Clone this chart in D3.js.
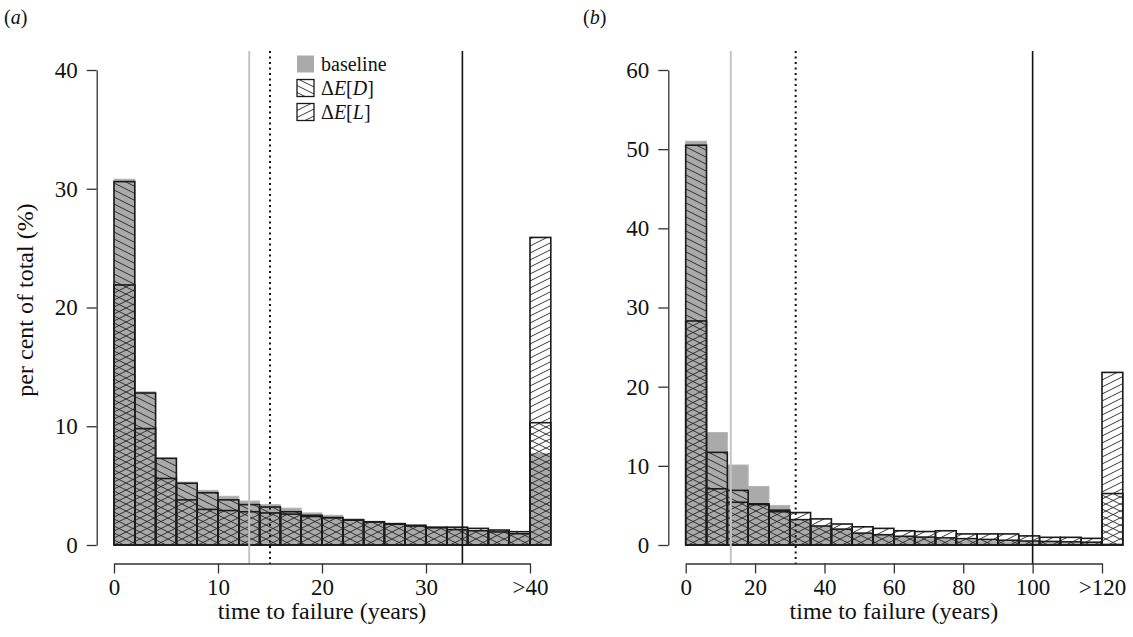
<!DOCTYPE html>
<html>
<head>
<meta charset="utf-8">
<script src="https://cdn.jsdelivr.net/npm/d3@7"></script>
<style>
  body { margin: 0; background: #fff; }
  svg { display: block; font-family: "Liberation Serif", "DejaVu Serif", serif; }
</style>
</head>
<body>
<div id="chartDiv"></div>
<script>
// bin starts (years); the last bin is the overflow bin (">40" / ">120")
const binStartA = [0, 2, 4, 6, 8, 10, 12, 14, 16, 18, 20, 22, 24, 26, 28, 30, 32, 34, 36, 38, 40];
const binStartB = [0, 6, 12, 18, 24, 30, 36, 42, 48, 54, 60, 66, 72, 78, 84, 90, 96, 102, 108, 114, 120];

// per cent of total, panel (a)
const baselineA = [30.8, 12.9, 7.3, 5.3, 4.6, 4.1, 3.7, 3.4, 3.1, 2.7, 2.5, 2.2, 2.0, 1.8, 1.7, 1.5, 1.35, 1.2, 1.1, 0.95, 7.7];
const deltaDA   = [30.6, 12.8, 7.3, 5.2, 4.4, 3.8, 3.4, 3.2, 2.8, 2.5, 2.3, 2.1, 1.95, 1.75, 1.6, 1.45, 1.3, 1.2, 1.1, 0.95, 10.3];
const deltaLA   = [21.9, 9.8, 5.6, 3.8, 3.0, 2.9, 2.8, 2.7, 2.6, 2.4, 2.3, 2.1, 1.95, 1.8, 1.65, 1.5, 1.5, 1.4, 1.26, 1.12, 25.9];

// per cent of total, panel (b)
const baselineB = [51.0, 14.2, 10.1, 7.4, 5.0, 3.0, 2.3, 2.0, 1.4, 1.3, 1.0, 0.9, 0.7, 0.6, 0.5, 0.4, 0.35, 0.3, 0.25, 0.2, 0.2];
const deltaDB   = [50.5, 11.7, 6.9, 5.2, 4.2, 3.2, 2.4, 2.0, 1.5, 1.3, 1.1, 1.0, 0.9, 0.8, 0.7, 0.6, 0.5, 0.45, 0.4, 0.35, 6.5];
const deltaLB   = [28.3, 7.1, 5.4, 5.1, 4.4, 4.1, 3.3, 2.65, 2.3, 2.1, 1.8, 1.7, 1.8, 1.4, 1.4, 1.4, 1.15, 0.97, 0.97, 0.84, 21.8];

// axes
const xTicksA = [0, 10, 20, 30, 40];
const xTickLabelsA = ["0", "10", "20", "30", ">40"];
const xTicksB = [0, 20, 40, 60, 80, 100, 120];
const xTickLabelsB = ["0", "20", "40", "60", "80", "100", ">120"];
const yTicksA = [0, 10, 20, 30, 40];
const yTicksB = [0, 10, 20, 30, 40, 50, 60];

// reference lines: grey, dotted, solid (years)
const vlinesA = [13, 15, 33.5];
const vlinesB = [13, 31.7, 100];

const width = 1133, height = 637;
const svg = d3.select("#chartDiv").append("svg")
    .attr("width", width)
    .attr("height", height)
    .attr("viewBox", [0, 0, width, height]);

svg.append("rect").attr("width", width).attr("height", height).attr("fill", "#fff");

// hatch patterns
const defs = svg.append("defs");
function hatch(id, dir) {
  const w = 14, h = 7;
  const p = defs.append("pattern")
      .attr("id", id)
      .attr("patternUnits", "userSpaceOnUse")
      .attr("width", w).attr("height", h);
  const d = dir > 0
    ? `M0,0L${w},${h}M0,${-h}L${w},0M0,${h}L${w},${2*h}`
    : `M0,${h}L${w},0M0,0L${w},${-h}M0,${2*h}L${w},${h}`;
  p.append("path").attr("d", d)
      .attr("stroke", "#222").attr("stroke-width", 0.9).attr("fill", "none");
}
hatch("hatchD", 1);
hatch("hatchL", -1);

const greyFill = "#aaaaaa";
const ink = "#111";

function panel(cfg) {
  const x = d3.scaleLinear().domain([0, cfg.xMax]).range(cfg.xRange);
  const y = d3.scaleLinear().domain([0, cfg.yMax]).range([545, 70]);
  const g = svg.append("g");

  const bars = (vals, cls) => g.append("g").selectAll("rect")
      .data(vals)
      .join("rect")
      .attr("class", cls)
      .attr("x", (d, i) => x(cfg.bins[i]))
      .attr("width", x(cfg.binW) - x(0))
      .attr("y", d => y(d))
      .attr("height", d => y(0) - y(d));

  bars(cfg.base, "base").attr("fill", greyFill).attr("stroke", "#b4b4b4").attr("stroke-width", 1);
  bars(cfg.dD, "dD").attr("fill", "url(#hatchD)").attr("stroke", "#1a1a1a").attr("stroke-width", 1.6);
  bars(cfg.dL, "dL").attr("fill", "url(#hatchL)").attr("stroke", "#1a1a1a").attr("stroke-width", 1.6);

  // vertical reference lines span the plot region
  const vl = g.append("g");
  vl.append("line").attr("x1", x(cfg.vlines[0])).attr("x2", x(cfg.vlines[0]))
      .attr("y1", 51).attr("y2", 564).attr("stroke", "#c4c4c4").attr("stroke-width", 2);
  vl.append("line").attr("x1", x(cfg.vlines[1])).attr("x2", x(cfg.vlines[1]))
      .attr("y1", 51).attr("y2", 564).attr("stroke", "#111").attr("stroke-width", 2)
      .attr("stroke-dasharray", "2,3.5");
  vl.append("line").attr("x1", x(cfg.vlines[2])).attr("x2", x(cfg.vlines[2]))
      .attr("y1", 51).attr("y2", 564).attr("stroke", "#111").attr("stroke-width", 1.6);

  // axes
  const xAxis = g.append("g")
      .attr("transform", "translate(0,563.5)")
      .call(d3.axisBottom(x).tickValues(cfg.xTicks)
          .tickFormat((d, i) => cfg.xLabels[i]).tickSize(10).tickSizeOuter(0).tickPadding(5));
  const yAxis = g.append("g")
      .attr("transform", `translate(${cfg.yAxisX},0)`)
      .call(d3.axisLeft(y).tickValues(cfg.yTicks).tickSize(10).tickSizeOuter(0).tickPadding(9));
  [xAxis, yAxis].forEach(a => {
    a.attr("font-family", null);
    a.selectAll("path, line").attr("stroke", "#333").attr("stroke-width", 1.3);
    a.selectAll("text").attr("fill", ink).style("font-size", "23px");
  });

  g.append("text")
      .attr("x", (cfg.xRange[0] + x(cfg.xTicks[cfg.xTicks.length - 1])) / 2)
      .attr("y", 619)
      .attr("text-anchor", "middle")
      .attr("fill", ink)
      .style("font-size", "24px")
      .text("time to failure (years)");

  g.append("text")
      .attr("x", cfg.tagX).attr("y", 24)
      .attr("fill", ink)
      .style("font-size", "20px")
      .html(`(<tspan font-style="italic">${cfg.tag}</tspan>)`);
  return {x, y, g};
}

panel({
  bins: binStartA, binW: 2, xMax: 40, xRange: [114, 530], yMax: 40,
  base: baselineA, dD: deltaDA, dL: deltaLA,
  xTicks: xTicksA, xLabels: xTickLabelsA, yTicks: yTicksA,
  vlines: vlinesA, yAxisX: 96.7, tag: "a", tagX: 4
});
panel({
  bins: binStartB, binW: 6, xMax: 120, xRange: [685.7, 1102], yMax: 60,
  base: baselineB, dD: deltaDB, dL: deltaLB,
  xTicks: xTicksB, xLabels: xTickLabelsB, yTicks: yTicksB,
  vlines: vlinesB, yAxisX: 668.3, tag: "b", tagX: 583
});

// y axis title
svg.append("text")
    .attr("transform", "translate(33,300) rotate(-90)")
    .attr("text-anchor", "middle")
    .attr("fill", ink)
    .style("font-size", "24px")
    .text("per cent of total (%)");

// legend (panel a)
const legendItems = [
  {fill: greyFill, stroke: "none", label: "baseline"},
  {fill: "url(#hatchD)", stroke: "#1a1a1a", label: "ΔE[D]", sub: "D"},
  {fill: "url(#hatchL)", stroke: "#1a1a1a", label: "ΔE[L]", sub: "L"}
];
const legend = svg.append("g");
legendItems.forEach((it, i) => {
  const cy = 64 + i * 24;
  legend.append("rect")
      .attr("x", 297).attr("y", cy - 8.5).attr("width", 17).attr("height", 17)
      .attr("fill", it.fill).attr("stroke", it.stroke).attr("stroke-width", 1.3);
  const t = legend.append("text")
      .attr("x", 321).attr("y", cy + 6.5)
      .attr("fill", ink)
      .style("font-size", "20px");
  if (!it.sub) {
    t.text(it.label);
  } else {
    t.append("tspan").text("Δ");
    t.append("tspan").attr("font-style", "italic").text("E");
    t.append("tspan").text("[");
    t.append("tspan").attr("font-style", "italic").text(it.sub);
    t.append("tspan").text("]");
  }
});
</script>
</body>
</html>
